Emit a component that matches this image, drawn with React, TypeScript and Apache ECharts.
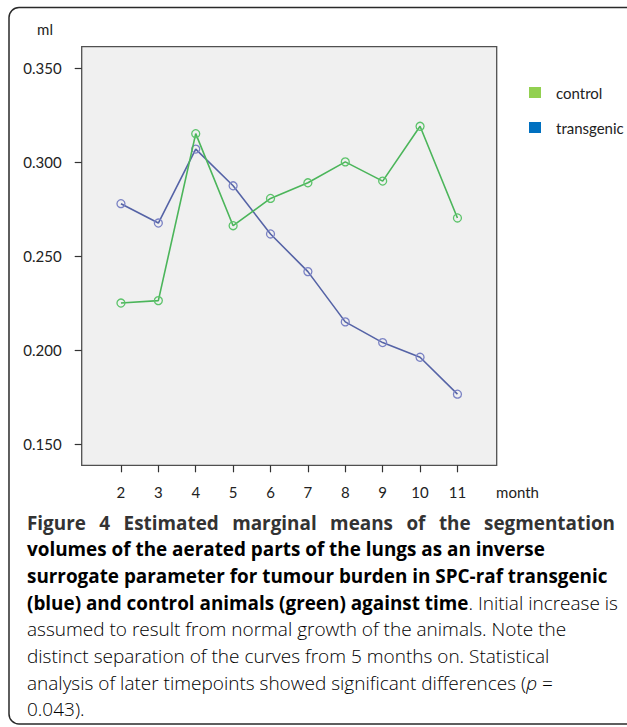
import React, { useEffect, useRef } from "react";
import * as echarts from "echarts";

const months = [2, 3, 4, 5, 6, 7, 8, 9, 10, 11];
const control = [0.225, 0.2263, 0.315, 0.2661, 0.2806, 0.2889, 0.3, 0.2898, 0.3189, 0.2702];
const transgenic = [0.2778, 0.2675, 0.3068, 0.2873, 0.2617, 0.2417, 0.215, 0.204, 0.1962, 0.1766];
const yTicks = [0.15, 0.2, 0.25, 0.3, 0.35];
const seriesNames = ["control", "transgenic"];

const captionLine1 = ["Figure", "4", "Estimated", "marginal", "means", "of", "the", "segmentation"];
const captionLine2 = "volumes of the aerated parts of the lungs as an inverse";
const captionLine3 = "surrogate parameter for tumour burden in SPC-raf transgenic";
const captionLine4Bold = "(blue) and control animals (green) against time";
const captionLine4Reg = ". Initial increase is";
const captionLine5 = "assumed to result from normal growth of the animals. Note the";
const captionLine6 = "distinct separation of the curves from 5 months on. Statistical";
const captionLine7a = "analysis of later timepoints showed significant differences (";
const captionLine7b = "p";
const captionLine7c = " =";
const captionLine8 = "0.043).";

const CAP_FAMILY = '"Open Sans", "Noto Sans", sans-serif';
const LAB_FAMILY = 'Lato, "Open Sans", sans-serif';
const LAB_SIZE = 15;

export default function App() {
  const ref = useRef<HTMLDivElement>(null);
  useEffect(() => {
    if (!ref.current) return;
    const chart = echarts.init(ref.current, null, { renderer: "svg" });

    const canvas = document.createElement("canvas");
    const ctx = canvas.getContext("2d") as CanvasRenderingContext2D;
    const measure = (t: string, font: string) => {
      ctx.font = font;
      return ctx.measureText(t).width;
    };
    let fsB = (100 * 518) / measure(captionLine2, `bold 100px ${CAP_FAMILY}`);
    fsB = Math.max(14, Math.min(19, fsB));
    let fsR = (100 * 551) / measure(captionLine5, `300 100px ${CAP_FAMILY}`);
    fsR = Math.max(14, Math.min(19, fsR));

    const capLeft = 27;
    const capRight = 615;
    const lineY0 = 522.7;
    const lh = 26.67;
    const boldColor = "#333333";
    const regColor = "#595959";

    const wordWidths = captionLine1.map((w) => measure(w, `bold ${fsB}px ${CAP_FAMILY}`));
    const total = wordWidths.reduce((a, b) => a + b, 0);
    const gap = (capRight - capLeft - total) / (captionLine1.length - 1);
    let cx = capLeft;
    const line1Els: any[] = captionLine1.map((w, i) => {
      const el = {
        type: "text",
        x: cx,
        y: lineY0,
        style: {
          text: w,
          fontSize: fsB,
          fontWeight: "bold",
          fontFamily: CAP_FAMILY,
          fill: boldColor,
          verticalAlign: "middle",
          align: "left",
        },
      };
      cx += wordWidths[i] + gap;
      return el;
    });

    const rich = {
      b: { fontSize: fsB, fontWeight: "bold", fontFamily: CAP_FAMILY, color: boldColor },
      r: { fontSize: fsR, fontWeight: 300, fontFamily: CAP_FAMILY, color: regColor },
      i: { fontSize: fsR, fontWeight: 300, fontStyle: "italic", fontFamily: CAP_FAMILY, color: regColor },
    };
    const capLine = (text: string, idx: number) => ({
      type: "text",
      x: capLeft,
      y: lineY0 + lh * idx,
      style: { text, rich, verticalAlign: "middle", align: "left" },
    });

    const symbolStyle = (c: string) => ({ color: "rgba(0,0,0,0)", borderColor: c, borderWidth: 1.3 });

    chart.setOption({
      animation: false,
      backgroundColor: "#ffffff",
      grid: {
        left: 81.7,
        top: 46.7,
        width: 415,
        height: 418.6,
        show: true,
        backgroundColor: "#f0f0f0",
        borderColor: "#505050",
        borderWidth: 1.3,
      },
      legend: {
        orient: "vertical",
        left: 524,
        top: 80,
        itemWidth: 12,
        itemHeight: 11,
        itemGap: 20,
        icon: "rect",
        data: [
          { name: seriesNames[0], itemStyle: { color: "#92D050", borderWidth: 0 } },
          { name: seriesNames[1], itemStyle: { color: "#0070C0", borderWidth: 0 } },
        ],
        textStyle: { fontSize: LAB_SIZE, color: "#222", fontFamily: LAB_FAMILY, padding: [0, 0, 0, 10] },
      },
      xAxis: {
        type: "value",
        min: 0.95,
        max: 12.05,
        axisLine: { show: false },
        splitLine: { show: false },
        axisTick: { show: true, length: 7, lineStyle: { color: "#333", width: 1.2 }, customValues: months },
        axisLabel: { customValues: months, margin: 19, fontSize: LAB_SIZE, color: "#222", fontFamily: LAB_FAMILY },
      },
      yAxis: {
        type: "value",
        min: 0.1388,
        max: 0.3612,
        axisLine: { show: false },
        splitLine: { show: false },
        axisTick: { show: true, length: 7, lineStyle: { color: "#333", width: 1.2 }, customValues: yTicks },
        axisLabel: {
          customValues: yTicks,
          margin: 20,
          fontSize: LAB_SIZE,
          color: "#222",
          fontFamily: LAB_FAMILY,
          formatter: (v: number) => v.toFixed(3),
        },
      },
      series: [
        {
          name: seriesNames[1],
          type: "line",
          data: months.map((m, i) => [m, transgenic[i]]),
          symbol: "circle",
          symbolSize: 8,
          lineStyle: { color: "#5563A6", width: 1.6 },
          itemStyle: symbolStyle("#7A82C4"),
          z: 2,
        },
        {
          name: seriesNames[0],
          type: "line",
          data: months.map((m, i) => [m, control[i]]),
          symbol: "circle",
          symbolSize: 8,
          lineStyle: { color: "#4BB55A", width: 1.6 },
          itemStyle: symbolStyle("#5CC36A"),
          z: 3,
        },
      ],
      graphic: [
        {
          type: "rect",
          shape: { x: 9, y: 7.5, width: 640, height: 716.5, r: 10 },
          style: { fill: "none", stroke: "#2a2a2a", lineWidth: 1.5 },
          silent: true,
        },
        {
          type: "text",
          x: 45,
          y: 29,
          style: { text: "ml", fontSize: LAB_SIZE, fontFamily: LAB_FAMILY, fill: "#222", align: "center", verticalAlign: "middle" },
        },
        {
          type: "text",
          x: 517.5,
          y: 492.3,
          style: { text: "month", fontSize: LAB_SIZE, fontFamily: LAB_FAMILY, fill: "#222", align: "center", verticalAlign: "middle" },
        },
        ...line1Els,
        capLine(`{b|${captionLine2}}`, 1),
        capLine(`{b|${captionLine3}}`, 2),
        capLine(`{b|${captionLine4Bold}}{r|${captionLine4Reg}}`, 3),
        capLine(`{r|${captionLine5}}`, 4),
        capLine(`{r|${captionLine6}}`, 5),
        capLine(`{r|${captionLine7a}}{i|${captionLine7b}}{r|${captionLine7c}}`, 6),
        capLine(`{r|${captionLine8}}`, 7),
      ],
    });
    return () => chart.dispose();
  }, []);
  return (
    <div
      ref={ref}
      style={{ position: "fixed", left: 0, top: 0, width: 627, height: 727 }}
    />
  );
}
